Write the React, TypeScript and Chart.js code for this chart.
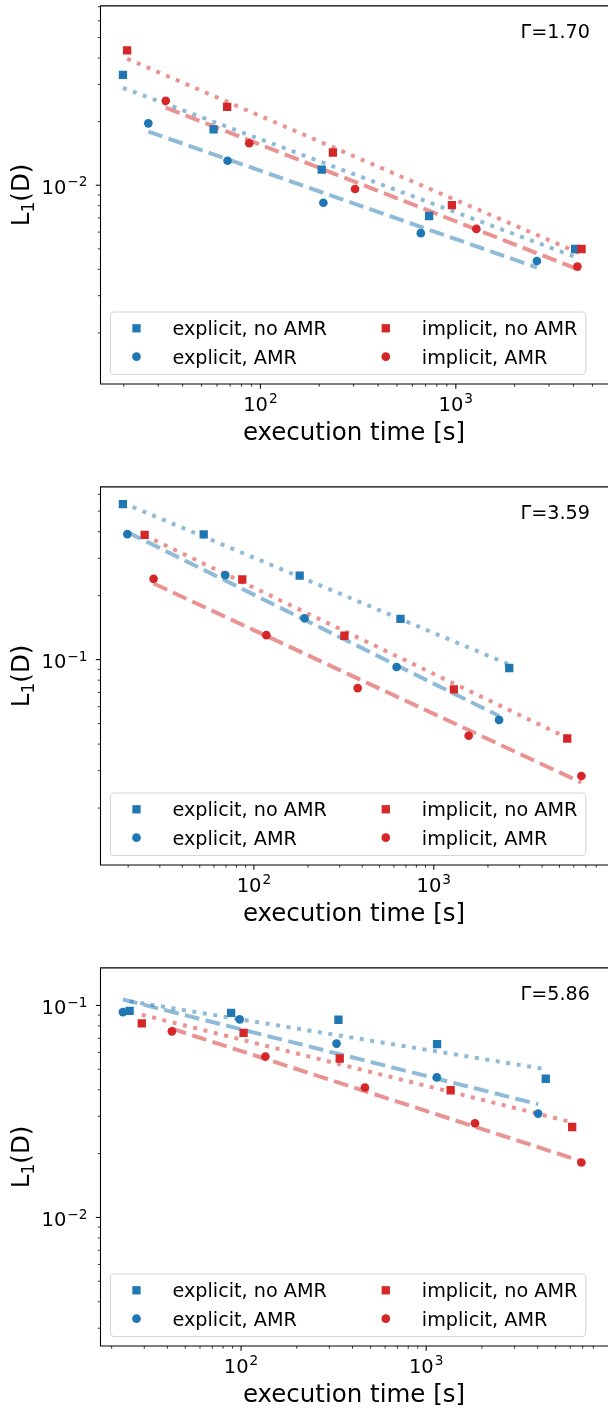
import React, { useEffect, useRef } from 'react';
import { Chart, registerables } from 'chart.js';

Chart.register(...registerables);

const FONT = '"DejaVu Sans", "Liberation Sans", sans-serif';
const BLUE = '#1f77b4';
const RED = '#d62728';
const BLUE_FIT = 'rgba(31,119,180,0.5)';
const RED_FIT = 'rgba(214,39,40,0.5)';

const LEGEND_LABELS = ['explicit, no AMR', 'explicit, AMR', 'implicit, no AMR', 'implicit, AMR'];
const X_TITLE = 'execution time [s]';

// ---- Panel 1 (Γ=1.70) ----
const P1_GAMMA = 'Γ=1.70';
const P1_X_RANGE = [15.11, 5607];
const P1_Y_RANGE = [0.001146, 0.07063];
const P1_EXP_NOAMR_X = [19.8, 57.6, 206, 730, 4080];
const P1_EXP_NOAMR_Y = [0.0333, 0.0184, 0.01185, 0.00715, 0.00499];
const P1_EXP_AMR_X = [26.7, 67.9, 210, 662, 2600];
const P1_EXP_AMR_Y = [0.01963, 0.01306, 0.00826, 0.00593, 0.00438];
const P1_IMP_NOAMR_X = [20.8, 67.6, 235, 955, 4400];
const P1_IMP_NOAMR_Y = [0.0435, 0.0235, 0.01429, 0.00805, 0.00499];
const P1_IMP_AMR_X = [32.8, 87.7, 305, 1274, 4190];
const P1_IMP_AMR_Y = [0.0251, 0.0158, 0.0096, 0.00621, 0.00412];
const P1_FIT_EXP_NOAMR_Y = [0.0289, 0.00458];
const P1_FIT_EXP_AMR_Y = [0.01795, 0.00408];
const P1_FIT_IMP_NOAMR_Y = [0.0397, 0.00472];
const P1_FIT_IMP_AMR_Y = [0.0233, 0.00401];

// ---- Panel 2 (Γ=3.59) ----
const P2_GAMMA = 'Γ=3.59';
const P2_X_RANGE = [13.95, 8624];
const P2_Y_RANGE = [0.010784, 0.6507];
const P2_EXP_NOAMR_X = [18.7, 52.6, 179.7, 653, 2626];
const P2_EXP_NOAMR_Y = [0.54, 0.3887, 0.2488, 0.1555, 0.0913];
const P2_EXP_AMR_X = [19.8, 69.3, 191.4, 621, 2305];
const P2_EXP_AMR_Y = [0.39, 0.2499, 0.1565, 0.0923, 0.052];
const P2_IMP_NOAMR_X = [24.7, 86.2, 318.6, 1293, 5518];
const P2_IMP_NOAMR_Y = [0.387, 0.2383, 0.1295, 0.0724, 0.0425];
const P2_IMP_AMR_X = [27.7, 117.3, 377.5, 1563, 6613];
const P2_IMP_AMR_Y = [0.2401, 0.1303, 0.0734, 0.0438, 0.0283];
const P2_FIT_EXP_NOAMR_Y = [0.547, 0.0948];
const P2_FIT_EXP_AMR_Y = [0.3985, 0.0543];
const P2_FIT_IMP_NOAMR_Y = [0.3846, 0.0428];
const P2_FIT_IMP_AMR_Y = [0.2283, 0.02637];

// ---- Panel 3 (Γ=5.86) ----
const P3_GAMMA = 'Γ=5.86';
const P3_X_RANGE = [17.3, 8920];
const P3_Y_RANGE = [0.002474, 0.1504];
const P3_EXP_NOAMR_X = [25.0, 88.4, 335.7, 1145, 4426];
const P3_EXP_NOAMR_Y = [0.0943, 0.0923, 0.0856, 0.0657, 0.0451];
const P3_EXP_AMR_X = [23.0, 98.3, 328, 1141, 4026];
const P3_EXP_AMR_Y = [0.093, 0.086, 0.0661, 0.0458, 0.0309];
const P3_IMP_NOAMR_X = [29.1, 103.2, 341.1, 1355, 6147];
const P3_IMP_NOAMR_Y = [0.0823, 0.0742, 0.0562, 0.0398, 0.0267];
const P3_IMP_AMR_X = [42.3, 135.3, 466.7, 1834, 6893];
const P3_IMP_AMR_Y = [0.0755, 0.0574, 0.041, 0.0278, 0.01816];
const P3_FIT_EXP_NOAMR_Y = [0.1047, 0.05];
const P3_FIT_EXP_AMR_Y = [0.1067, 0.0342];
const P3_FIT_IMP_NOAMR_Y = [0.0904, 0.0281];
const P3_FIT_IMP_AMR_Y = [0.0777, 0.01842];

type PanelCfg = {
  gamma: string;
  xRange: number[];
  yRange: number[];
  series: { x: number[]; y: number[]; fit: number[] }[];
};

const PANELS: PanelCfg[] = [
  {
    gamma: P1_GAMMA, xRange: P1_X_RANGE, yRange: P1_Y_RANGE,
    series: [
      { x: P1_EXP_NOAMR_X, y: P1_EXP_NOAMR_Y, fit: P1_FIT_EXP_NOAMR_Y },
      { x: P1_EXP_AMR_X, y: P1_EXP_AMR_Y, fit: P1_FIT_EXP_AMR_Y },
      { x: P1_IMP_NOAMR_X, y: P1_IMP_NOAMR_Y, fit: P1_FIT_IMP_NOAMR_Y },
      { x: P1_IMP_AMR_X, y: P1_IMP_AMR_Y, fit: P1_FIT_IMP_AMR_Y },
    ],
  },
  {
    gamma: P2_GAMMA, xRange: P2_X_RANGE, yRange: P2_Y_RANGE,
    series: [
      { x: P2_EXP_NOAMR_X, y: P2_EXP_NOAMR_Y, fit: P2_FIT_EXP_NOAMR_Y },
      { x: P2_EXP_AMR_X, y: P2_EXP_AMR_Y, fit: P2_FIT_EXP_AMR_Y },
      { x: P2_IMP_NOAMR_X, y: P2_IMP_NOAMR_Y, fit: P2_FIT_IMP_NOAMR_Y },
      { x: P2_IMP_AMR_X, y: P2_IMP_AMR_Y, fit: P2_FIT_IMP_AMR_Y },
    ],
  },
  {
    gamma: P3_GAMMA, xRange: P3_X_RANGE, yRange: P3_Y_RANGE,
    series: [
      { x: P3_EXP_NOAMR_X, y: P3_EXP_NOAMR_Y, fit: P3_FIT_EXP_NOAMR_Y },
      { x: P3_EXP_AMR_X, y: P3_EXP_AMR_Y, fit: P3_FIT_EXP_AMR_Y },
      { x: P3_IMP_NOAMR_X, y: P3_IMP_NOAMR_Y, fit: P3_FIT_IMP_NOAMR_Y },
      { x: P3_IMP_AMR_X, y: P3_IMP_AMR_Y, fit: P3_FIT_IMP_AMR_Y },
    ],
  },
];

const SERIES_STYLE = [
  { color: BLUE, fitColor: BLUE_FIT, shape: 'rect', dash: [4, 6.6] },
  { color: BLUE, fitColor: BLUE_FIT, shape: 'circle', dash: [14.9, 6.4] },
  { color: RED, fitColor: RED_FIT, shape: 'rect', dash: [4, 6.6] },
  { color: RED, fitColor: RED_FIT, shape: 'circle', dash: [14.9, 6.4] },
];

const TICK_FS = 19.5;
const SUP_FS = 13.7;
const SUP_RAISE = 7.6;
const LABEL_FS = 24.5;
const LEGEND_FS = 19.2;
const SQ_HALF = 4.15;
const CIRC_R = 4.35;
const AREA_BOTTOM = 384;

function logTicks(min: number, max: number) {
  const out: { v: number; major: boolean; e: number }[] = [];
  for (let e = Math.floor(Math.log10(min)); e <= Math.ceil(Math.log10(max)); e++) {
    for (let k = 1; k <= 9; k++) {
      const v = k * Math.pow(10, e);
      if (v >= min * 0.9999 && v <= max * 1.0001) out.push({ v, major: k === 1, e });
    }
  }
  return out;
}

function drawPow(ctx: CanvasRenderingContext2D, e: number, x: number, baseline: number, align: 'center' | 'right') {
  const base = '10';
  const sup = e < 0 ? '\u2212' + String(-e) : String(e);
  ctx.font = `${TICK_FS}px ${FONT}`;
  const wb = ctx.measureText(base).width;
  ctx.font = `${SUP_FS}px ${FONT}`;
  const ws = ctx.measureText(sup).width;
  const gap = 1;
  const total = wb + gap + ws;
  const x0 = align === 'center' ? x - total / 2 : x - total;
  ctx.textAlign = 'left';
  ctx.textBaseline = 'alphabetic';
  ctx.fillStyle = '#000';
  ctx.font = `${TICK_FS}px ${FONT}`;
  ctx.fillText(base, x0, baseline);
  ctx.font = `${SUP_FS}px ${FONT}`;
  ctx.fillText(sup, x0 + wb + gap, baseline - SUP_RAISE);
}

function drawMarker(ctx: CanvasRenderingContext2D, shape: string, color: string, x: number, y: number) {
  ctx.fillStyle = color;
  if (shape === 'rect') {
    ctx.fillRect(x - SQ_HALF, y - SQ_HALF, SQ_HALF * 2, SQ_HALF * 2);
  } else {
    ctx.beginPath();
    ctx.arc(x, y, CIRC_R, 0, Math.PI * 2);
    ctx.fill();
  }
}

function makeDecor(cfg: PanelCfg) {
  return {
    id: 'decor',
    afterDraw(chart: any) {
      const ctx: CanvasRenderingContext2D = chart.ctx;
      const a = chart.chartArea;
      const xs = chart.scales.x;
      const ys = chart.scales.y;
      ctx.save();
      // spines
      ctx.strokeStyle = '#000';
      ctx.lineWidth = 1.07;
      ctx.beginPath();
      ctx.moveTo(a.left + 0.5, a.top);
      ctx.lineTo(a.left + 0.5, a.bottom);
      ctx.moveTo(a.left, a.bottom);
      ctx.lineTo(chart.width + 2, a.bottom);
      ctx.moveTo(a.left, a.top);
      ctx.lineTo(chart.width + 2, a.top);
      ctx.stroke();

      // x ticks
      for (const t of logTicks(cfg.xRange[0], cfg.xRange[1])) {
        const px = xs.getPixelForValue(t.v);
        ctx.lineWidth = t.major ? 1.07 : 0.8;
        ctx.beginPath();
        ctx.moveTo(px, a.bottom);
        ctx.lineTo(px, a.bottom + (t.major ? 4.7 : 2.7));
        ctx.stroke();
        if (t.major) drawPow(ctx, t.e, px, a.bottom + 26.7, 'center');
      }
      // y ticks
      for (const t of logTicks(cfg.yRange[0], cfg.yRange[1])) {
        const py = ys.getPixelForValue(t.v);
        ctx.strokeStyle = '#000';
        ctx.lineWidth = t.major ? 1.07 : 0.8;
        ctx.beginPath();
        ctx.moveTo(a.left + 0.5, py);
        ctx.lineTo(a.left + 0.5 - (t.major ? 4.7 : 2.7), py);
        ctx.stroke();
        if (t.major) drawPow(ctx, t.e, a.left - 12.5, py + 8.7, 'right');
      }

      // x title
      ctx.fillStyle = '#000';
      ctx.font = `${LABEL_FS}px ${FONT}`;
      ctx.textAlign = 'center';
      ctx.textBaseline = 'alphabetic';
      ctx.fillText(X_TITLE, (a.left + chart.width) / 2, a.bottom + 56);

      // y title  L_1(D)
      ctx.save();
      ctx.translate(29, (a.top + a.bottom) / 2);
      ctx.rotate(-Math.PI / 2);
      ctx.textAlign = 'left';
      ctx.font = `${LABEL_FS}px ${FONT}`;
      const wL = ctx.measureText('L').width;
      const wD = ctx.measureText('(D)').width;
      ctx.font = `${LABEL_FS * 0.7}px ${FONT}`;
      const w1 = ctx.measureText('1').width;
      const total = wL + w1 + wD;
      let sx = -total / 2;
      ctx.font = `${LABEL_FS}px ${FONT}`;
      ctx.fillText('L', sx, 0);
      ctx.font = `${LABEL_FS * 0.7}px ${FONT}`;
      ctx.fillText('1', sx + wL, 4.5);
      ctx.font = `${LABEL_FS}px ${FONT}`;
      ctx.fillText('(D)', sx + wL + w1, 0);
      ctx.restore();

      // gamma label
      ctx.fillStyle = '#000';
      ctx.font = `${LEGEND_FS}px ${FONT}`;
      ctx.textAlign = 'right';
      ctx.fillText(cfg.gamma, 590, a.top + 31.7);

      // legend
      const lx = a.left + 10.5;
      const lyb = a.bottom - 9.5;
      const lw = 475.3;
      const lh = 62.5;
      const ly = lyb - lh;
      const r = 4;
      ctx.beginPath();
      ctx.moveTo(lx + r, ly);
      ctx.lineTo(lx + lw - r, ly);
      ctx.arcTo(lx + lw, ly, lx + lw, ly + r, r);
      ctx.lineTo(lx + lw, ly + lh - r);
      ctx.arcTo(lx + lw, ly + lh, lx + lw - r, ly + lh, r);
      ctx.lineTo(lx + r, ly + lh);
      ctx.arcTo(lx, ly + lh, lx, ly + lh - r, r);
      ctx.lineTo(lx, ly + r);
      ctx.arcTo(lx, ly, lx + r, ly, r);
      ctx.closePath();
      ctx.fillStyle = 'rgba(255,255,255,0.8)';
      ctx.fill();
      ctx.strokeStyle = 'rgba(204,204,204,0.8)';
      ctx.lineWidth = 1.07;
      ctx.stroke();

      const colX = [0, 249.3];
      const rowY = [16.3, 44.7];
      SERIES_STYLE.forEach((s, i) => {
        const col = i < 2 ? 0 : 1;
        const row = i % 2;
        const mx = lx + 26 + colX[col];
        const my = ly + rowY[row];
        drawMarker(ctx, s.shape, s.color, mx, my);
        ctx.fillStyle = '#000';
        ctx.font = `${LEGEND_FS}px ${FONT}`;
        ctx.textAlign = 'left';
        ctx.fillText(LEGEND_LABELS[i], lx + 62 + colX[col], my + 6.8);
      });
      ctx.restore();
    },
  };
}

function Panel({ cfg, top, height }: { cfg: PanelCfg; top: number; height: number }) {
  const ref = useRef<HTMLCanvasElement>(null);
  useEffect(() => {
    const datasets: any[] = [];
    const markerOrder = [4, 3, 2, 1];
    cfg.series.forEach((s, i) => {
      const st = SERIES_STYLE[i];
      datasets.push({
        label: LEGEND_LABELS[i],
        data: s.x.map((x, j) => ({ x, y: s.y[j] })),
        showLine: false,
        pointStyle: st.shape,
        pointRadius: st.shape === 'rect' ? SQ_HALF * Math.SQRT2 : CIRC_R,
        pointBackgroundColor: st.color,
        pointBorderWidth: 0,
        pointBorderColor: st.color,
        order: markerOrder[i],
      });
    });
    cfg.series.forEach((s, i) => {
      const st = SERIES_STYLE[i];
      datasets.push({
        label: LEGEND_LABELS[i] + ' fit',
        data: [
          { x: s.x[0], y: s.fit[0] },
          { x: s.x[s.x.length - 1], y: s.fit[1] },
        ],
        showLine: true,
        borderColor: st.fitColor,
        borderWidth: 4,
        borderDash: st.dash,
        borderCapStyle: 'butt',
        pointRadius: 0,
        fill: false,
        order: 10 + i,
      });
    });
    const xAxisHeight = height - AREA_BOTTOM;
    const chart = new Chart(ref.current as HTMLCanvasElement, {
      type: 'scatter',
      data: { datasets },
      options: {
        animation: false,
        responsive: false,
        maintainAspectRatio: false,
        devicePixelRatio: 1,
        events: [],
        layout: { padding: { left: 0, right: 0, top: 3.5, bottom: 0 } },
        plugins: { legend: { display: false }, tooltip: { enabled: false } },
        scales: {
          x: {
            type: 'logarithmic',
            min: cfg.xRange[0],
            max: cfg.xRange[1],
            bounds: 'data',
            grid: { display: false },
            border: { display: false },
            ticks: { display: false },
            afterFit: (s: any) => { s.height = xAxisHeight; },
          },
          y: {
            type: 'logarithmic',
            min: cfg.yRange[0],
            max: cfg.yRange[1],
            bounds: 'data',
            grid: { display: false },
            border: { display: false },
            ticks: { display: false },
            afterFit: (s: any) => { s.width = 100; },
          },
        },
      } as any,
      plugins: [makeDecor(cfg)],
    });
    return () => chart.destroy();
  }, []);
  return (
    <canvas
      ref={ref}
      width={608}
      height={height}
      style={{ position: 'absolute', left: 0, top, width: 608, height }}
    />
  );
}

export default function App() {
  return (
    <div style={{ position: 'absolute', left: 0, top: 0, width: 608, height: 1409, background: '#fff', overflow: 'hidden' }}>
      <Panel cfg={PANELS[0]} top={0} height={481} />
      <Panel cfg={PANELS[1]} top={481} height={481} />
      <Panel cfg={PANELS[2]} top={962} height={447} />
    </div>
  );
}
